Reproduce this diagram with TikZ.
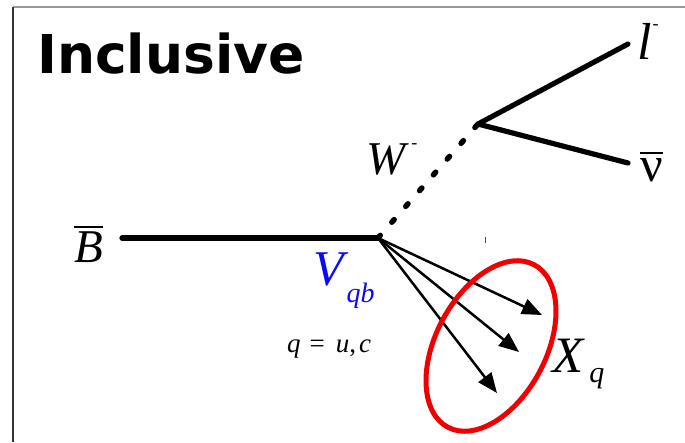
\documentclass[tikz,border=0pt]{standalone}
\usepackage{fontspec}
\setmainfont{Liberation Serif}
\newfontfamily\titlefont{DejaVu Sans}
\usetikzlibrary{arrows.meta}
\definecolor{vblue}{RGB}{10,10,245}
\definecolor{ellred}{RGB}{240,0,0}
\newcommand{\obar}[2]{\vbox{\hrule height 2.2pt\kern #1\hbox{#2}}}
\newcommand{\fsz}[1]{\fontsize{#1}{#1}\selectfont}
\tikzset{
  lbl/.style={inner sep=0pt, anchor=base west},
  propline/.style={line width=5.2pt, line cap=round},
  wline/.style={line width=5.5pt, line cap=round, dash pattern=on 3.5pt off 17.5pt},
  hadron/.style={line width=2.5pt, -{Triangle[length=20pt,width=16pt]}},
  frameT/.style={draw=black!40, line width=1.6pt},
  frameL/.style={draw=black!80, line width=1.6pt},
}
\begin{document}
\begin{tikzpicture}[x=1pt,y=1pt]
\useasboundingbox (0,0) rectangle (685,442);
% frame
\coordinate (fTL) at (13,435);
\coordinate (fTR) at (685,435);
\coordinate (fBL) at (13,0);
\draw[frameT] (fTL) -- (fTR);
\draw[frameL] (fTL) -- (fBL);
% title
\node[lbl] (title) at (37,368) {\titlefont\bfseries\fsz{53.5}Inclusive};
% vertices
\coordinate (Bend) at (122,204);
\coordinate (V) at (378,204);
\coordinate (Wv) at (478,318);
\coordinate (lend) at (628,398);
\coordinate (nend) at (628,279);
\coordinate (a1) at (542,127);
\coordinate (a2) at (519,90);
\coordinate (a3) at (497,49);
% lines
\draw[propline] (Bend) -- (V);
\draw[wline] (V) -- (Wv);
\draw[propline] (Wv) -- (lend);
\draw[propline] (Wv) -- (nend);
\draw[hadron] (V) -- (a1);
\draw[hadron] (V) -- (a2);
\draw[hadron] (V) -- (a3);
% small red tick
\coordinate (tk1) at (485.5,199);
\coordinate (tk2) at (485.5,205);
\draw[ellred, line width=1pt] (tk1) -- (tk2);
% ellipse
\draw[ellred, line width=5pt, rotate around={-28:(491,96)}] (491,96) ellipse [x radius=55, y radius=92];
% labels
\node[lbl] (Blbl) at (74,179) {\fsz{47}\obar{4pt}{\itshape B}};
\node[lbl] (Wlbl) at (366,267) {\fsz{47}\itshape W\kern6pt\raisebox{26pt}{\fsz{18}\upshape -}};
\node[lbl] (llbl) at (637,382) {\fsz{52}\itshape l\kern1pt\raisebox{30pt}{\fsz{18}\upshape -}};
\node[lbl] (nlbl) at (640,260) {\fsz{50}\obar{5pt}{ν}};
\node[lbl, text=vblue] (Vlbl) at (313,157) {\fsz{50}\itshape V\kern3pt\raisebox{-18pt}{\fsz{28}qb}};
\node[lbl] (qlbl) at (287,90) {\fsz{27}\itshape q\hspace{9pt}\upshape=\hspace{11pt}\itshape u\upshape,\hspace{3pt}\itshape c};
\node[lbl] (Xlbl) at (552,70) {\fsz{51}\itshape X\kern6pt\raisebox{-10pt}{\fsz{30}q}};
\end{tikzpicture}
\end{document}
